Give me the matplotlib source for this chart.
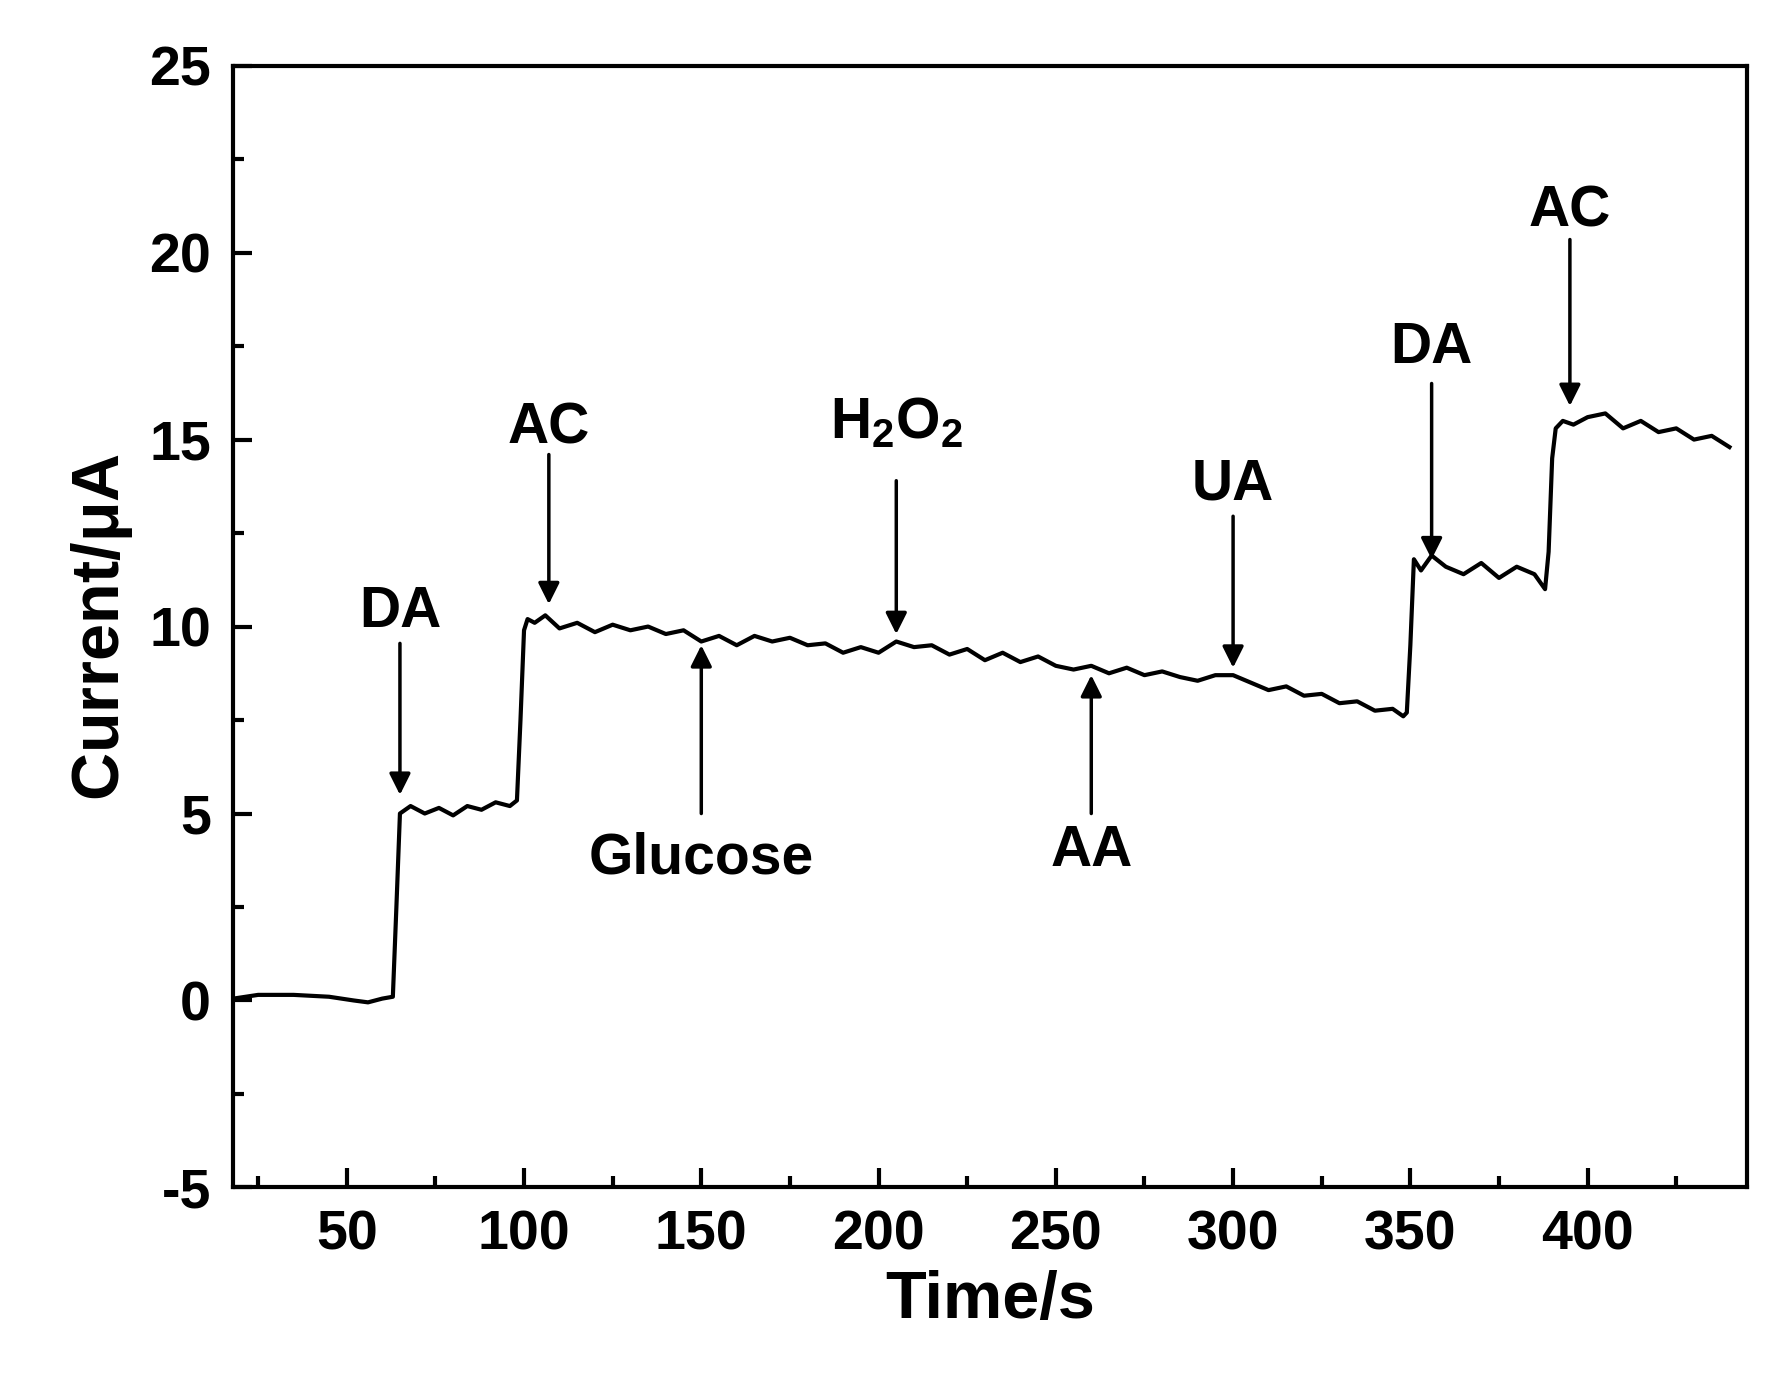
import matplotlib
matplotlib.use('Agg')
import matplotlib.pyplot as plt
from matplotlib.ticker import MultipleLocator

plt.rcParams['font.family'] = ['Liberation Sans', 'DejaVu Sans']
plt.rcParams['font.weight'] = 'bold'
plt.rcParams['mathtext.fontset'] = 'custom'
plt.rcParams['mathtext.bf'] = 'Liberation Sans:bold'
plt.rcParams['mathtext.rm'] = 'Liberation Sans:bold'
plt.rcParams['mathtext.default'] = 'bf'
plt.rcParams['axes.unicode_minus'] = False

# trace (time in s, current in uA)
time = [18, 25, 35, 45, 52, 56, 60, 63, 64, 65, 68, 72, 76, 80, 84, 88, 92, 96, 98,
        99, 100, 101, 103, 106, 110, 115, 120, 125, 130, 135, 140, 145, 150, 155, 160,
        165, 170, 175, 180, 185, 190, 195, 200, 205, 210, 215, 220, 225, 230, 235, 240,
        245, 250, 255, 260, 265, 270, 275, 280, 285, 290, 295, 300, 305, 310, 315, 320,
        325, 330, 335, 340, 345, 348, 349, 350, 351, 353, 356, 360, 365, 370, 375, 380,
        385, 388, 389, 390, 391, 393, 396, 400, 405, 410, 415, 420, 425, 430, 435, 440]
current = [0.05, 0.15, 0.15, 0.1, 0.0, -0.05, 0.05, 0.1, 2.5, 5.0, 5.2, 5.0, 5.15, 4.95, 5.2,
           5.1, 5.3, 5.2, 5.35, 7.5, 9.9, 10.2, 10.1, 10.3, 9.95, 10.1, 9.85, 10.05, 9.9,
           10.0, 9.8, 9.9, 9.6, 9.75, 9.5, 9.75, 9.6, 9.7, 9.5, 9.55, 9.3, 9.45, 9.3, 9.6,
           9.45, 9.5, 9.25, 9.4, 9.1, 9.3, 9.05, 9.2, 8.95, 8.85, 8.95, 8.75, 8.9, 8.7, 8.8,
           8.65, 8.55, 8.7, 8.7, 8.5, 8.3, 8.4, 8.15, 8.2, 7.95, 8.0, 7.75, 7.8, 7.6, 7.7,
           9.5, 11.8, 11.5, 11.9, 11.6, 11.4, 11.7, 11.3, 11.6, 11.4, 11.0, 12.0, 14.5,
           15.3, 15.5, 15.4, 15.6, 15.7, 15.3, 15.5, 15.2, 15.3, 15.0, 15.1, 14.8]

labels = ['DA', 'AC', 'Glucose', '$\\mathbf{H_2O_2}$', 'AA', 'UA', 'DA', 'AC']
label_x = [65, 107, 150, 205, 260, 300, 356, 395]
label_y = [10.4, 15.3, 3.8, 15.45, 4.0, 13.8, 17.45, 21.1]
arrow_from = [9.55, 14.6, 5.0, 13.9, 5.0, 12.95, 16.5, 20.35]
arrow_to = [5.5, 10.6, 9.5, 9.8, 8.7, 8.9, 11.8, 15.9]

fig = plt.figure(figsize=(17.81, 13.97), dpi=100)
ax = fig.add_axes([0.131, 0.150, 0.850, 0.803])
ax.plot(time, current, color='black', lw=3)

for lab, x, y, y0, y1 in zip(labels, label_x, label_y, arrow_from, arrow_to):
    ax.text(x, y, lab, ha='center', va='center', fontsize=41, fontweight='bold')
    ax.annotate('', xy=(x, y1), xytext=(x, y0),
                arrowprops=dict(arrowstyle='-|>', color='black', lw=2.5,
                                mutation_scale=32, shrinkA=0, shrinkB=0))

ax.set_xlim(18, 445)
ax.set_ylim(-5, 25)
ax.xaxis.set_major_locator(MultipleLocator(50))
ax.xaxis.set_minor_locator(MultipleLocator(25))
ax.yaxis.set_major_locator(MultipleLocator(5))
ax.yaxis.set_minor_locator(MultipleLocator(2.5))
ax.tick_params(which='both', direction='in', width=3, labelsize=40, pad=16)
ax.tick_params(which='major', length=14)
ax.tick_params(which='minor', length=8)
for s in ax.spines.values():
    s.set_linewidth(3)
ax.set_xlabel('Time/s', fontsize=48, fontweight='bold', labelpad=6)
ax.set_ylabel('Current/$\\mathbf{\\mu}$A', fontsize=48, fontweight='bold', labelpad=10)

fig.savefig('out.png', dpi=100)
